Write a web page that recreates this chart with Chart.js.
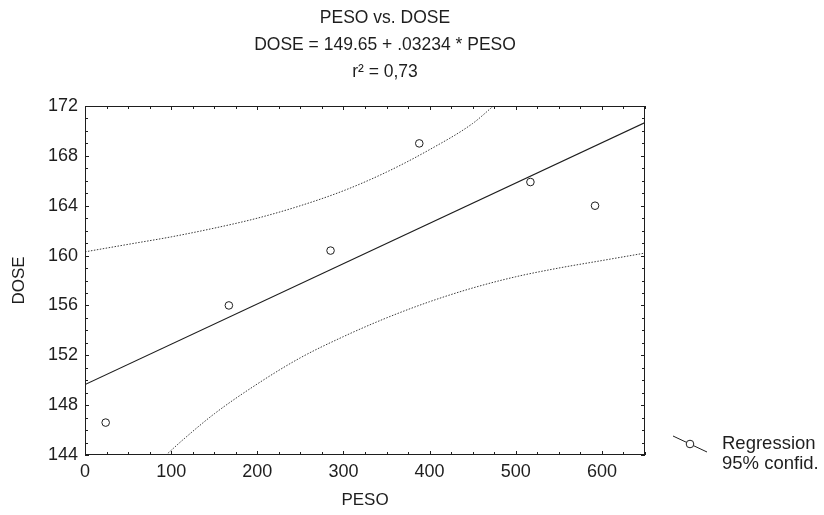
<!DOCTYPE html>
<html>
<head>
<meta charset="utf-8">
<script src="https://cdn.jsdelivr.net/npm/chart.js@4.4.1/dist/chart.umd.min.js"></script>
<style>
    html, body { margin: 0; padding: 0; background: #fff; }
    #wrap { width: 824px; height: 515px; position: relative; }
</style>
</head>
<body>
<div id="wrap"><canvas id="doseChart" width="824" height="515"></canvas></div>
<script>
// observed points
const pesoValues = [24, 167, 285, 388, 517, 592];
const doseValues = [146.6, 156.0, 160.4, 169.0, 165.9, 164.0];

// fitted line end points (DOSE = 149.65 + .03234 * PESO)
const fitPeso = [0, 650];
const fitDose = [149.65, 170.67];

// 95% confidence band
const upperPeso = [0, 50, 100, 150, 200, 250, 300, 350, 400, 450, 474];
const upperDose = [160.3, 160.9, 161.5, 162.2, 163.0, 164.0, 165.2, 166.7, 168.5, 170.6, 172.0];
const lowerPeso = [94, 115, 150, 200, 250, 300, 350, 400, 450, 500, 550, 600, 650];
const lowerDose = [144.0, 145.3, 147.3, 149.7, 151.8, 153.5, 155.0, 156.3, 157.4, 158.3, 159.0, 159.6, 160.2];

// axis ticks
const pesoTicks = [0, 100, 200, 300, 400, 500, 600];
const doseTicks = [144, 148, 152, 156, 160, 164, 168, 172];

const titleLines = ['PESO vs. DOSE', 'DOSE = 149.65 + .03234 * PESO', 'r\u00b2 = 0,73'];
const legendLabels = ['Regression', '95% confid.'];

const FONT = '"Liberation Sans", Arial, sans-serif';
const INK = '#1e1e1e';

function pairs(xs, ys) {
    return xs.map((x, i) => ({ x: x, y: ys[i] }));
}

// frame, inward ticks, title block and legend
const decorPlugin = {
    id: 'decor',
    afterDraw(chart) {
        const ctx = chart.ctx;
        const a = chart.chartArea;
        const xs = chart.scales.x;
        const ys = chart.scales.y;
        ctx.save();
        ctx.strokeStyle = INK;
        ctx.lineWidth = 1;
        ctx.strokeRect(a.left + 0.5, a.top + 0.5, a.right - a.left - 1, a.bottom - a.top - 1);

        ctx.beginPath();
        for (let v = 0; v <= 650; v += 25) {
            const px = Math.round(xs.getPixelForValue(v)) + 0.5;
            const len = v % 100 === 0 ? 4 : 3;
            ctx.moveTo(px, a.bottom); ctx.lineTo(px, a.bottom - len);
            ctx.moveTo(px, a.top); ctx.lineTo(px, a.top + len);
        }
        for (let v = 144; v <= 172; v += 1) {
            const py = Math.round(ys.getPixelForValue(v)) + 0.5;
            const len = v % 4 === 0 ? 4 : 3;
            ctx.moveTo(a.left, py); ctx.lineTo(a.left + len, py);
            ctx.moveTo(a.right, py); ctx.lineTo(a.right - len, py);
        }
        ctx.stroke();

        // title
        ctx.fillStyle = INK;
        ctx.font = '17.5px ' + FONT;
        ctx.textAlign = 'center';
        ctx.textBaseline = 'middle';
        titleLines.forEach((t, i) => ctx.fillText(t, 385, 18 + i * 27));

        // legend
        ctx.beginPath();
        ctx.moveTo(673, 436);
        ctx.lineTo(707, 452);
        ctx.stroke();
        ctx.beginPath();
        ctx.fillStyle = '#fff';
        ctx.arc(690, 444, 3.8, 0, Math.PI * 2);
        ctx.fill();
        ctx.stroke();
        ctx.fillStyle = INK;
        ctx.font = '18.5px ' + FONT;
        ctx.textAlign = 'left';
        legendLabels.forEach((t, i) => ctx.fillText(t, 722, 444 + i * 20));
        ctx.restore();
    }
};

const ctx = document.getElementById('doseChart');
new Chart(ctx, {
    type: 'scatter',
    data: {
        datasets: [
            {
                label: 'Upper',
                data: pairs(upperPeso, upperDose),
                showLine: true,
                borderColor: '#3a3a3a',
                borderWidth: 1,
                borderDash: [1.5, 1.5],
                pointRadius: 0,
                cubicInterpolationMode: 'monotone'
            },
            {
                label: 'Lower',
                data: pairs(lowerPeso, lowerDose),
                showLine: true,
                borderColor: '#3a3a3a',
                borderWidth: 1,
                borderDash: [1.5, 1.5],
                pointRadius: 0,
                cubicInterpolationMode: 'monotone'
            },
            {
                label: 'Fit',
                data: pairs(fitPeso, fitDose),
                showLine: true,
                borderColor: INK,
                borderWidth: 1.2,
                pointRadius: 0
            },
            {
                label: 'Regression',
                data: pairs(pesoValues, doseValues),
                showLine: false,
                pointRadius: 3.8,
                pointBackgroundColor: '#fff',
                pointBorderColor: INK,
                pointBorderWidth: 1
            }
        ]
    },
    options: {
        responsive: false,
        animation: false,
        devicePixelRatio: 1,
        layout: { padding: { left: 0, top: 106, right: 179, bottom: 0 } },
        plugins: {
            legend: { display: false },
            title: { display: false },
            tooltip: { enabled: false }
        },
        scales: {
            x: {
                type: 'linear',
                min: 0,
                max: 650,
                afterBuildTicks: s => { s.ticks = pesoTicks.map(v => ({ value: v })); },
                afterFit: s => { s.height = 60; },
                grid: { display: false, drawTicks: false },
                border: { display: false },
                ticks: {
                    autoSkip: false,
                    maxRotation: 0,
                    padding: 6,
                    color: INK,
                    font: { family: FONT, size: 18 }
                },
                title: {
                    display: true,
                    text: 'PESO',
                    color: INK,
                    font: { family: FONT, size: 17 },
                    padding: { top: 0, bottom: 4 }
                }
            },
            y: {
                type: 'linear',
                min: 144,
                max: 172,
                afterBuildTicks: s => { s.ticks = doseTicks.map(v => ({ value: v })); },
                afterFit: s => { s.width = 85; },
                grid: { display: false, drawTicks: false },
                border: { display: false },
                ticks: {
                    autoSkip: false,
                    padding: 7,
                    color: INK,
                    font: { family: FONT, size: 18 }
                },
                title: {
                    display: true,
                    text: 'DOSE',
                    color: INK,
                    font: { family: FONT, size: 17 },
                    padding: { top: 9, bottom: 0 }
                }
            }
        }
    },
    plugins: [decorPlugin]
});
</script>
</body>
</html>
